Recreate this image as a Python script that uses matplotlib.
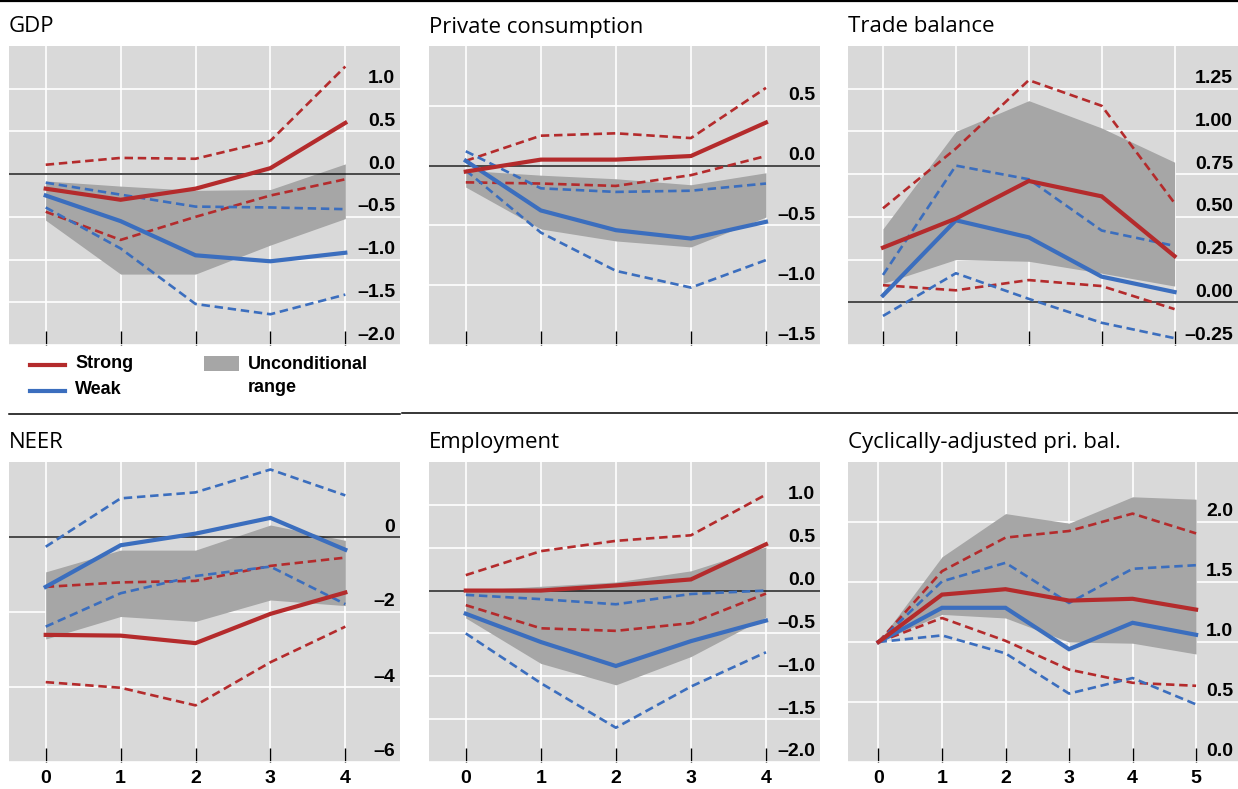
import matplotlib
matplotlib.use("Agg")
import matplotlib.pyplot as plt
import matplotlib.transforms as mtransforms
from matplotlib.lines import Line2D
from matplotlib.patches import Rectangle

# ---------------------------------------------------------------- colours
RED = "#B42B2C"
BLUE = "#3B6EBE"
BG = "#D9D9D9"
RANGE = "#A6A6A6"

NUM_FONT = dict(family="Liberation Sans", weight="bold", size=14)
LEG_FONT = dict(family="Liberation Sans", weight="bold", size=13)
TITLE_FONT = dict(family="Open Sans", size=16)

# ---------------------------------------------------------------- data
horizon = [0, 1, 2, 3, 4]
horizon_cab = [0, 1, 2, 3, 4, 5]

# GDP
gdp_strong = [-0.17, -0.30, -0.17, 0.07, 0.60]
gdp_strong_hi = [0.11, 0.19, 0.18, 0.39, 1.26]
gdp_strong_lo = [-0.44, -0.77, -0.50, -0.25, -0.06]
gdp_weak = [-0.25, -0.55, -0.95, -1.02, -0.92]
gdp_weak_hi = [-0.10, -0.24, -0.38, -0.39, -0.41]
gdp_weak_lo = [-0.39, -0.87, -1.52, -1.64, -1.41]
gdp_range_hi = [-0.08, -0.14, -0.19, -0.18, 0.12]
gdp_range_lo = [-0.54, -1.17, -1.17, -0.83, -0.52]
gdp_yticks = [-2.0, -1.5, -1.0, -0.5, 0.0, 0.5, 1.0]
gdp_ylabels = ["–2.0", "–1.5", "–1.0", "–0.5", "0.0", "0.5", "1.0"]

# Private consumption
pc_strong = [-0.05, 0.05, 0.05, 0.08, 0.36]
pc_strong_hi = [0.04, 0.25, 0.27, 0.23, 0.65]
pc_strong_lo = [-0.14, -0.15, -0.17, -0.08, 0.08]
pc_weak = [0.04, -0.375, -0.54, -0.61, -0.47]
pc_weak_hi = [0.12, -0.19, -0.22, -0.21, -0.15]
pc_weak_lo = [-0.04, -0.56, -0.88, -1.02, -0.79]
pc_range_hi = [-0.04, -0.08, -0.11, -0.16, -0.06]
pc_range_lo = [-0.18, -0.53, -0.63, -0.68, -0.43]
pc_yticks = [-1.5, -1.0, -0.5, 0.0, 0.5]
pc_ylabels = ["–1.5", "–1.0", "–0.5", "0.0", "0.5"]

# Trade balance
tb_strong = [0.32, 0.49, 0.71, 0.62, 0.27]
tb_strong_hi = [0.55, 0.90, 1.30, 1.15, 0.58]
tb_strong_lo = [0.10, 0.07, 0.13, 0.095, -0.04]
tb_weak = [0.04, 0.48, 0.38, 0.15, 0.06]
tb_weak_hi = [0.16, 0.80, 0.72, 0.42, 0.33]
tb_weak_lo = [-0.08, 0.17, 0.02, -0.12, -0.21]
tb_range_hi = [0.43, 1.00, 1.18, 1.02, 0.82]
tb_range_lo = [0.11, 0.25, 0.24, 0.17, 0.095]
tb_yticks = [-0.25, 0.0, 0.25, 0.5, 0.75, 1.0, 1.25]
tb_ylabels = ["–0.25", "0.00", "0.25", "0.50", "0.75", "1.00", "1.25"]

# NEER
neer_strong = [-2.61, -2.63, -2.83, -2.05, -1.48]
neer_strong_hi = [-1.33, -1.21, -1.17, -0.77, -0.55]
neer_strong_lo = [-3.87, -4.02, -4.49, -3.34, -2.39]
neer_weak = [-1.33, -0.22, 0.09, 0.51, -0.34]
neer_weak_hi = [-0.26, 1.03, 1.19, 1.80, 1.11]
neer_weak_lo = [-2.39, -1.50, -1.04, -0.79, -1.79]
neer_range_hi = [-0.93, -0.35, -0.35, 0.32, -0.09]
neer_range_lo = [-2.72, -2.12, -2.25, -1.68, -1.83]
neer_yticks = [-6, -4, -2, 0]
neer_ylabels = ["–6", "–4", "–2", "0"]

# Employment
emp_strong = [0.0, 0.0, 0.06, 0.13, 0.54]
emp_strong_hi = [0.18, 0.46, 0.58, 0.645, 1.12]
emp_strong_lo = [-0.17, -0.44, -0.47, -0.38, -0.035]
emp_weak = [-0.27, -0.60, -0.88, -0.59, -0.35]
emp_weak_hi = [-0.05, -0.10, -0.16, -0.04, 0.0]
emp_weak_lo = [-0.50, -1.08, -1.60, -1.12, -0.72]
emp_range_hi = [0.0, 0.05, 0.10, 0.23, 0.51]
emp_range_lo = [-0.32, -0.85, -1.10, -0.77, -0.31]
emp_yticks = [-2.0, -1.5, -1.0, -0.5, 0.0, 0.5, 1.0]
emp_ylabels = ["–2.0", "–1.5", "–1.0", "–0.5", "0.0", "0.5", "1.0"]

# Cyclically-adjusted primary balance
cab_strong = [1.0, 1.395, 1.44, 1.345, 1.36, 1.27]
cab_strong_hi = [1.0, 1.59, 1.87, 1.925, 2.07, 1.905]
cab_strong_lo = [1.0, 1.20, 1.01, 0.77, 0.66, 0.635]
cab_weak = [1.0, 1.285, 1.285, 0.94, 1.16, 1.06]
cab_weak_hi = [1.0, 1.505, 1.66, 1.325, 1.61, 1.64]
cab_weak_lo = [1.0, 1.055, 0.905, 0.57, 0.70, 0.48]
cab_range_hi = [1.0, 1.71, 2.07, 1.99, 2.21, 2.19]
cab_range_lo = [1.0, 1.23, 1.20, 1.00, 0.99, 0.90]
cab_yticks = [0.0, 0.5, 1.0, 1.5, 2.0]
cab_ylabels = ["0.0", "0.5", "1.0", "1.5", "2.0"]

titles = ["GDP", "Private consumption", "Trade balance",
          "NEER", "Employment", "Cyclically-adjusted pri. bal."]
legend_labels = ["Strong", "Weak", "Unconditional\nrange"]

# ---------------------------------------------------------------- layout
W, H = 1238, 789
fig = plt.figure(figsize=(W / 100, H / 100), dpi=100)
fig.patch.set_facecolor("white")

cols = [(9, 400), (429, 820), (848, 1238)]
rows = [(46, 345), (462, 762)]
title_y = [27, 442]


def rect(x0, x1, y0, y1):
    return [x0 / W, 1 - y1 / H, (x1 - x0) / W, (y1 - y0) / H]


panels = [
    dict(x=horizon, s=gdp_strong, sh=gdp_strong_hi, sl=gdp_strong_lo,
         w=gdp_weak, wh=gdp_weak_hi, wl=gdp_weak_lo,
         rh=gdp_range_hi, rl=gdp_range_lo, yt=gdp_yticks, yl=gdp_ylabels,
         ylim=(-2.0, 1.5), xlim=(-0.49, 4.73), zero=True),
    dict(x=horizon, s=pc_strong, sh=pc_strong_hi, sl=pc_strong_lo,
         w=pc_weak, wh=pc_weak_hi, wl=pc_weak_lo,
         rh=pc_range_hi, rl=pc_range_lo, yt=pc_yticks, yl=pc_ylabels,
         ylim=(-1.5, 1.0), xlim=(-0.49, 4.72), zero=True),
    dict(x=horizon, s=tb_strong, sh=tb_strong_hi, sl=tb_strong_lo,
         w=tb_weak, wh=tb_weak_hi, wl=tb_weak_lo,
         rh=tb_range_hi, rl=tb_range_lo, yt=tb_yticks, yl=tb_ylabels,
         ylim=(-0.25, 1.5), xlim=(-0.48, 4.87), zero=True),
    dict(x=horizon, s=neer_strong, sh=neer_strong_hi, sl=neer_strong_lo,
         w=neer_weak, wh=neer_weak_hi, wl=neer_weak_lo,
         rh=neer_range_hi, rl=neer_range_lo, yt=neer_yticks, yl=neer_ylabels,
         ylim=(-6, 2), xlim=(-0.49, 4.73), zero=True),
    dict(x=horizon, s=emp_strong, sh=emp_strong_hi, sl=emp_strong_lo,
         w=emp_weak, wh=emp_weak_hi, wl=emp_weak_lo,
         rh=emp_range_hi, rl=emp_range_lo, yt=emp_yticks, yl=emp_ylabels,
         ylim=(-2.0, 1.5), xlim=(-0.49, 4.72), zero=True),
    dict(x=horizon_cab, s=cab_strong, sh=cab_strong_hi, sl=cab_strong_lo,
         w=cab_weak, wh=cab_weak_hi, wl=cab_weak_lo,
         rh=cab_range_hi, rl=cab_range_lo, yt=cab_yticks, yl=cab_ylabels,
         ylim=(0.0, 2.5), xlim=(-0.48, 5.66), zero=False),
]

label_shift = mtransforms.ScaledTranslation(-0.05, 0.055, fig.dpi_scale_trans)

for i, p in enumerate(panels):
    r, c = divmod(i, 3)
    x0, x1 = cols[c]
    y0, y1 = rows[r]
    ax = fig.add_axes(rect(x0, x1, y0, y1))
    ax.set_facecolor(BG)
    for sp in ax.spines.values():
        sp.set_visible(False)
    ax.set_xlim(*p["xlim"])
    ax.set_ylim(*p["ylim"])
    ax.set_xticks(p["x"])
    ax.set_yticks(p["yt"])
    ax.set_axisbelow(True)
    ax.grid(True, color="white", lw=1.2)
    ax.tick_params(axis="y", length=0, labelleft=False)
    ax.tick_params(axis="x", direction="in", length=10, width=1.0,
                   color="black", pad=6, labelbottom=(r == 1))
    if r == 1:
        ax.set_xticklabels([str(v) for v in p["x"]], fontdict=NUM_FONT)

    # value labels sitting just above their gridlines, inside the right edge
    for v, lab in zip(p["yt"], p["yl"]):
        ax.text(1.0, v, lab, transform=ax.get_yaxis_transform() + label_shift,
                ha="right", va="baseline", **NUM_FONT, zorder=6)

    ax.fill_between(p["x"], p["rl"], p["rh"], color=RANGE, lw=0, zorder=2)
    if p["zero"]:
        ax.axhline(0, color="#1a1a1a", lw=1.1, zorder=3)

    dash = dict(lw=1.9, dashes=(3.2, 1.8), zorder=4)
    ax.plot(p["x"], p["sh"], color=RED, **dash)
    ax.plot(p["x"], p["sl"], color=RED, **dash)
    ax.plot(p["x"], p["wh"], color=BLUE, **dash)
    ax.plot(p["x"], p["wl"], color=BLUE, **dash)
    ax.plot(p["x"], p["w"], color=BLUE, lw=3.0, zorder=5,
            solid_joinstyle="miter")
    ax.plot(p["x"], p["s"], color=RED, lw=3.0, zorder=5,
            solid_joinstyle="miter")

    fig.text(x0 / W, 1 - title_y[r] / H, titles[i], ha="left", va="center",
             **TITLE_FONT)

# ---------------------------------------------------------------- rules
fig.add_artist(Line2D([0, 1], [1 - 1 / H] * 2, color="black", lw=1.6))
fig.add_artist(Line2D([9 / W, 400 / W], [1 - 414 / H] * 2, color="black", lw=1.1))
fig.add_artist(Line2D([402 / W, 1], [1 - 413 / H] * 2, color="black", lw=1.1))

# ---------------------------------------------------------------- legend
fig.add_artist(Line2D([30 / W, 65 / W], [1 - 365 / H] * 2, color=RED, lw=3.0))
fig.add_artist(Line2D([30 / W, 65 / W], [1 - 391 / H] * 2, color=BLUE, lw=3.0))
fig.add_artist(Rectangle((204 / W, 1 - 371 / H), 35 / W, 15 / H,
                         transform=fig.transFigure, color=RANGE, lw=0))
fig.text(75 / W, 1 - 364 / H, legend_labels[0], ha="left", va="center", **LEG_FONT)
fig.text(75 / W, 1 - 390 / H, legend_labels[1], ha="left", va="center", **LEG_FONT)
fig.text(248 / W, 1 - 376 / H, legend_labels[2], ha="left", va="center",
         linespacing=1.4, **LEG_FONT)

fig.savefig("out.png", dpi=100, facecolor="white")
